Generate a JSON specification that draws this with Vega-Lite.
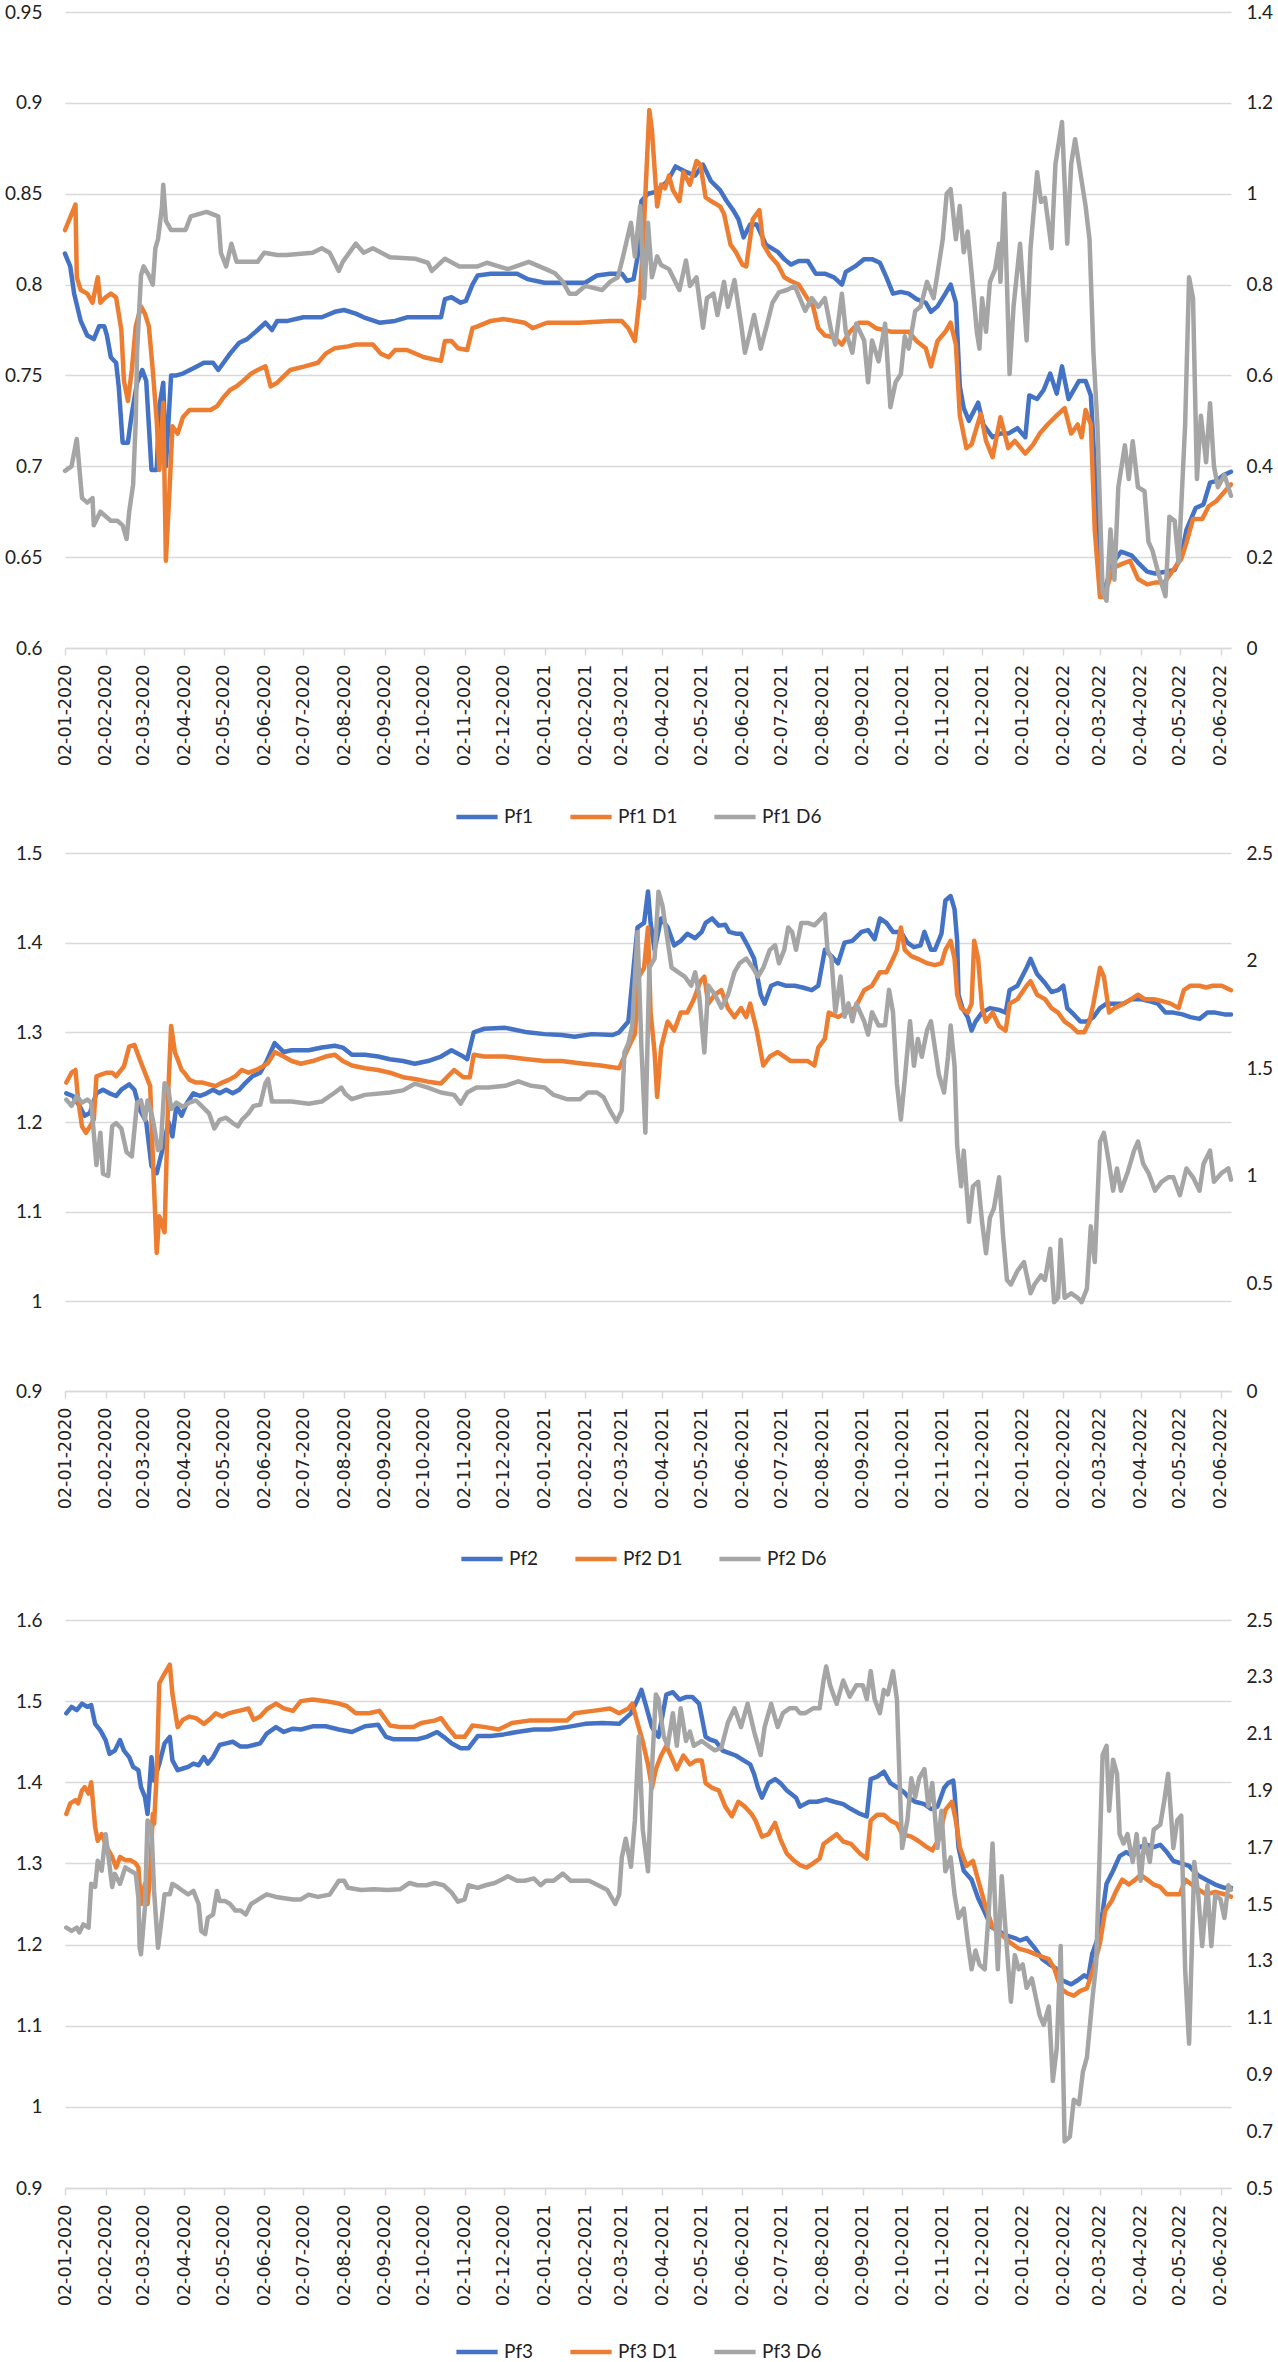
{
"$schema": "https://vega.github.io/schema/vega-lite/v6.json",
"background": "white",
"padding": {"left": 4, "top": 3, "right": 0, "bottom": 0},
"config": {
  "view": {"stroke": null},
  "font": "Lato",
  "axis": {"labelFont": "Lato", "labelFontSize": 19, "labelColor": "#222222", "title": null},
  "legend": {"labelFont": "Lato", "labelFontSize": 19, "labelColor": "#222222"},
  "line": {"strokeWidth": 4.5, "strokeCap": "round", "strokeJoin": "round"}
},
"datasets": {
"p1a": [
{"d":"2020-01-02","v":0.817},{"d":"2020-01-06","v":0.81},{"d":"2020-01-09","v":0.795},{"d":"2020-01-14","v":0.78},{"d":"2020-01-19","v":0.772},{"d":"2020-01-24","v":0.77},{"d":"2020-01-28","v":0.777},{"d":"2020-02-01","v":0.777},{"d":"2020-02-03","v":0.772},{"d":"2020-02-06","v":0.76},{"d":"2020-02-10","v":0.757},{"d":"2020-02-12","v":0.744},{"d":"2020-02-15","v":0.713},{"d":"2020-02-19","v":0.713},{"d":"2020-02-22","v":0.729},{"d":"2020-02-26","v":0.746},{"d":"2020-03-01","v":0.753},{"d":"2020-03-04","v":0.747},{"d":"2020-03-08","v":0.698},{"d":"2020-03-12","v":0.698},{"d":"2020-03-14","v":0.733},{"d":"2020-03-17","v":0.746},{"d":"2020-03-19","v":0.70},{"d":"2020-03-23","v":0.75},{"d":"2020-03-27","v":0.75},{"d":"2020-04-01","v":0.751},{"d":"2020-04-09","v":0.754},{"d":"2020-04-17","v":0.757},{"d":"2020-04-24","v":0.757},{"d":"2020-04-28","v":0.753},{"d":"2020-05-02","v":0.757},{"d":"2020-05-07","v":0.762},{"d":"2020-05-14","v":0.768},{"d":"2020-05-20","v":0.77},{"d":"2020-05-28","v":0.775},{"d":"2020-06-03","v":0.779},{"d":"2020-06-08","v":0.775},{"d":"2020-06-12","v":0.78},{"d":"2020-06-20","v":0.78},{"d":"2020-07-02","v":0.782},{"d":"2020-07-16","v":0.782},{"d":"2020-07-26","v":0.785},{"d":"2020-08-02","v":0.786},{"d":"2020-08-11","v":0.784},{"d":"2020-08-17","v":0.782},{"d":"2020-08-29","v":0.779},{"d":"2020-09-10","v":0.78},{"d":"2020-09-19","v":0.782},{"d":"2020-10-02","v":0.782},{"d":"2020-10-15","v":0.782},{"d":"2020-10-18","v":0.792},{"d":"2020-10-23","v":0.793},{"d":"2020-10-30","v":0.79},{"d":"2020-11-03","v":0.791},{"d":"2020-11-08","v":0.80},{"d":"2020-11-12","v":0.805},{"d":"2020-11-22","v":0.806},{"d":"2020-12-02","v":0.806},{"d":"2020-12-12","v":0.806},{"d":"2020-12-20","v":0.803},{"d":"2021-01-02","v":0.801},{"d":"2021-01-13","v":0.801},{"d":"2021-01-23","v":0.801},{"d":"2021-02-02","v":0.801},{"d":"2021-02-11","v":0.805},{"d":"2021-02-21","v":0.806},{"d":"2021-03-02","v":0.806},{"d":"2021-03-06","v":0.802},{"d":"2021-03-11","v":0.803},{"d":"2021-03-14","v":0.815},{"d":"2021-03-17","v":0.846},{"d":"2021-03-22","v":0.85},{"d":"2021-03-28","v":0.851},{"d":"2021-04-06","v":0.857},{"d":"2021-04-12","v":0.865},{"d":"2021-04-20","v":0.862},{"d":"2021-04-27","v":0.86},{"d":"2021-05-03","v":0.866},{"d":"2021-05-09","v":0.857},{"d":"2021-05-16","v":0.852},{"d":"2021-05-21","v":0.846},{"d":"2021-05-26","v":0.841},{"d":"2021-05-30","v":0.836},{"d":"2021-06-03","v":0.826},{"d":"2021-06-08","v":0.833},{"d":"2021-06-13","v":0.833},{"d":"2021-06-20","v":0.822},{"d":"2021-06-29","v":0.818},{"d":"2021-07-04","v":0.814},{"d":"2021-07-09","v":0.811},{"d":"2021-07-15","v":0.813},{"d":"2021-07-22","v":0.813},{"d":"2021-07-28","v":0.806},{"d":"2021-08-04","v":0.806},{"d":"2021-08-11","v":0.804},{"d":"2021-08-17","v":0.80},{"d":"2021-08-20","v":0.807},{"d":"2021-08-27","v":0.81},{"d":"2021-09-03","v":0.814},{"d":"2021-09-09","v":0.814},{"d":"2021-09-15","v":0.812},{"d":"2021-09-20","v":0.804},{"d":"2021-09-25","v":0.795},{"d":"2021-10-01","v":0.796},{"d":"2021-10-07","v":0.795},{"d":"2021-10-13","v":0.792},{"d":"2021-10-20","v":0.79},{"d":"2021-10-24","v":0.785},{"d":"2021-10-29","v":0.788},{"d":"2021-11-04","v":0.795},{"d":"2021-11-08","v":0.80},{"d":"2021-11-12","v":0.79},{"d":"2021-11-15","v":0.744},{"d":"2021-11-18","v":0.732},{"d":"2021-11-22","v":0.725},{"d":"2021-11-29","v":0.735},{"d":"2021-12-03","v":0.723},{"d":"2021-12-10","v":0.716},{"d":"2021-12-16","v":0.718},{"d":"2021-12-22","v":0.718},{"d":"2021-12-29","v":0.721},{"d":"2022-01-04","v":0.716},{"d":"2022-01-07","v":0.739},{"d":"2022-01-13","v":0.737},{"d":"2022-01-18","v":0.742},{"d":"2022-01-23","v":0.751},{"d":"2022-01-28","v":0.74},{"d":"2022-02-01","v":0.755},{"d":"2022-02-06","v":0.737},{"d":"2022-02-14","v":0.747},{"d":"2022-02-19","v":0.747},{"d":"2022-02-23","v":0.739},{"d":"2022-02-26","v":0.70},{"d":"2022-03-02","v":0.635},{"d":"2022-03-05","v":0.631},{"d":"2022-03-12","v":0.647},{"d":"2022-03-18","v":0.653},{"d":"2022-03-26","v":0.651},{"d":"2022-03-31","v":0.647},{"d":"2022-04-07","v":0.642},{"d":"2022-04-13","v":0.641},{"d":"2022-04-21","v":0.642},{"d":"2022-04-28","v":0.643},{"d":"2022-05-03","v":0.651},{"d":"2022-05-07","v":0.665},{"d":"2022-05-14","v":0.677},{"d":"2022-05-20","v":0.679},{"d":"2022-05-25","v":0.691},{"d":"2022-05-30","v":0.692},{"d":"2022-06-04","v":0.695},{"d":"2022-06-10","v":0.697}
],
"p1b": [
{"d":"2020-01-02","v":0.83},{"d":"2020-01-06","v":0.837},{"d":"2020-01-10","v":0.844},{"d":"2020-01-11","v":0.804},{"d":"2020-01-14","v":0.797},{"d":"2020-01-19","v":0.795},{"d":"2020-01-23","v":0.79},{"d":"2020-01-27","v":0.804},{"d":"2020-01-29","v":0.79},{"d":"2020-02-02","v":0.793},{"d":"2020-02-06","v":0.795},{"d":"2020-02-10","v":0.793},{"d":"2020-02-14","v":0.775},{"d":"2020-02-16","v":0.747},{"d":"2020-02-19","v":0.736},{"d":"2020-02-22","v":0.753},{"d":"2020-02-25","v":0.777},{"d":"2020-02-29","v":0.788},{"d":"2020-03-03","v":0.784},{"d":"2020-03-06","v":0.777},{"d":"2020-03-09","v":0.753},{"d":"2020-03-12","v":0.725},{"d":"2020-03-14","v":0.698},{"d":"2020-03-17","v":0.735},{"d":"2020-03-19","v":0.648},{"d":"2020-03-22","v":0.69},{"d":"2020-03-24","v":0.722},{"d":"2020-03-28","v":0.718},{"d":"2020-04-01","v":0.727},{"d":"2020-04-06","v":0.731},{"d":"2020-04-17","v":0.731},{"d":"2020-04-22","v":0.731},{"d":"2020-04-27","v":0.733},{"d":"2020-05-02","v":0.738},{"d":"2020-05-07","v":0.742},{"d":"2020-05-12","v":0.744},{"d":"2020-05-17","v":0.747},{"d":"2020-05-23","v":0.751},{"d":"2020-05-28","v":0.753},{"d":"2020-06-03","v":0.755},{"d":"2020-06-07","v":0.744},{"d":"2020-06-12","v":0.746},{"d":"2020-06-22","v":0.753},{"d":"2020-07-03","v":0.755},{"d":"2020-07-13","v":0.757},{"d":"2020-07-19","v":0.762},{"d":"2020-07-26","v":0.765},{"d":"2020-08-05","v":0.766},{"d":"2020-08-11","v":0.767},{"d":"2020-08-24","v":0.767},{"d":"2020-08-30","v":0.762},{"d":"2020-09-05","v":0.76},{"d":"2020-09-10","v":0.764},{"d":"2020-09-19","v":0.764},{"d":"2020-10-02","v":0.76},{"d":"2020-10-15","v":0.758},{"d":"2020-10-18","v":0.769},{"d":"2020-10-23","v":0.769},{"d":"2020-10-28","v":0.765},{"d":"2020-11-04","v":0.764},{"d":"2020-11-08","v":0.776},{"d":"2020-11-12","v":0.777},{"d":"2020-11-22","v":0.78},{"d":"2020-12-02","v":0.781},{"d":"2020-12-18","v":0.779},{"d":"2020-12-24","v":0.776},{"d":"2021-01-04","v":0.779},{"d":"2021-01-29","v":0.779},{"d":"2021-02-21","v":0.78},{"d":"2021-03-02","v":0.78},{"d":"2021-03-07","v":0.776},{"d":"2021-03-12","v":0.769},{"d":"2021-03-16","v":0.795},{"d":"2021-03-19","v":0.834},{"d":"2021-03-23","v":0.896},{"d":"2021-03-25","v":0.885},{"d":"2021-03-29","v":0.843},{"d":"2021-04-01","v":0.855},{"d":"2021-04-04","v":0.853},{"d":"2021-04-07","v":0.86},{"d":"2021-04-10","v":0.852},{"d":"2021-04-15","v":0.846},{"d":"2021-04-18","v":0.862},{"d":"2021-04-23","v":0.855},{"d":"2021-04-28","v":0.868},{"d":"2021-05-01","v":0.866},{"d":"2021-05-05","v":0.848},{"d":"2021-05-09","v":0.846},{"d":"2021-05-16","v":0.843},{"d":"2021-05-19","v":0.839},{"d":"2021-05-24","v":0.822},{"d":"2021-05-28","v":0.818},{"d":"2021-06-02","v":0.811},{"d":"2021-06-05","v":0.81},{"d":"2021-06-10","v":0.836},{"d":"2021-06-15","v":0.841},{"d":"2021-06-18","v":0.822},{"d":"2021-06-23","v":0.816},{"d":"2021-06-29","v":0.811},{"d":"2021-07-04","v":0.804},{"d":"2021-07-09","v":0.802},{"d":"2021-07-15","v":0.80},{"d":"2021-07-22","v":0.792},{"d":"2021-07-26","v":0.788},{"d":"2021-07-30","v":0.776},{"d":"2021-08-04","v":0.772},{"d":"2021-08-11","v":0.771},{"d":"2021-08-17","v":0.767},{"d":"2021-08-23","v":0.774},{"d":"2021-08-30","v":0.779},{"d":"2021-09-06","v":0.779},{"d":"2021-09-12","v":0.776},{"d":"2021-09-24","v":0.774},{"d":"2021-10-07","v":0.774},{"d":"2021-10-13","v":0.769},{"d":"2021-10-20","v":0.765},{"d":"2021-10-24","v":0.755},{"d":"2021-10-29","v":0.769},{"d":"2021-11-04","v":0.774},{"d":"2021-11-08","v":0.779},{"d":"2021-11-12","v":0.767},{"d":"2021-11-15","v":0.728},{"d":"2021-11-20","v":0.71},{"d":"2021-11-24","v":0.712},{"d":"2021-12-01","v":0.729},{"d":"2021-12-05","v":0.714},{"d":"2021-12-10","v":0.705},{"d":"2021-12-16","v":0.727},{"d":"2021-12-22","v":0.71},{"d":"2021-12-27","v":0.714},{"d":"2022-01-04","v":0.707},{"d":"2022-01-10","v":0.712},{"d":"2022-01-15","v":0.718},{"d":"2022-01-21","v":0.723},{"d":"2022-01-28","v":0.728},{"d":"2022-02-03","v":0.732},{"d":"2022-02-08","v":0.718},{"d":"2022-02-13","v":0.723},{"d":"2022-02-16","v":0.716},{"d":"2022-02-19","v":0.731},{"d":"2022-02-23","v":0.723},{"d":"2022-02-26","v":0.665},{"d":"2022-03-02","v":0.628},{"d":"2022-03-05","v":0.628},{"d":"2022-03-12","v":0.644},{"d":"2022-03-18","v":0.646},{"d":"2022-03-25","v":0.648},{"d":"2022-03-31","v":0.638},{"d":"2022-04-07","v":0.635},{"d":"2022-04-13","v":0.636},{"d":"2022-04-20","v":0.636},{"d":"2022-04-26","v":0.642},{"d":"2022-05-03","v":0.649},{"d":"2022-05-07","v":0.658},{"d":"2022-05-12","v":0.671},{"d":"2022-05-19","v":0.671},{"d":"2022-05-24","v":0.678},{"d":"2022-05-30","v":0.681},{"d":"2022-06-05","v":0.686},{"d":"2022-06-10","v":0.69}
],
"p1c": [
{"d":"2020-01-02","v":0.39},{"d":"2020-01-07","v":0.40},{"d":"2020-01-11","v":0.46},{"d":"2020-01-15","v":0.33},{"d":"2020-01-19","v":0.32},{"d":"2020-01-23","v":0.33},{"d":"2020-01-24","v":0.27},{"d":"2020-01-29","v":0.30},{"d":"2020-02-06","v":0.28},{"d":"2020-02-11","v":0.28},{"d":"2020-02-15","v":0.27},{"d":"2020-02-18","v":0.24},{"d":"2020-02-20","v":0.30},{"d":"2020-02-23","v":0.36},{"d":"2020-02-25","v":0.50},{"d":"2020-02-26","v":0.65},{"d":"2020-02-29","v":0.82},{"d":"2020-03-02","v":0.84},{"d":"2020-03-06","v":0.82},{"d":"2020-03-09","v":0.80},{"d":"2020-03-11","v":0.88},{"d":"2020-03-13","v":0.90},{"d":"2020-03-16","v":0.97},{"d":"2020-03-17","v":1.02},{"d":"2020-03-19","v":0.94},{"d":"2020-03-23","v":0.92},{"d":"2020-04-03","v":0.92},{"d":"2020-04-07","v":0.95},{"d":"2020-04-19","v":0.96},{"d":"2020-04-28","v":0.95},{"d":"2020-04-30","v":0.87},{"d":"2020-05-04","v":0.84},{"d":"2020-05-08","v":0.89},{"d":"2020-05-12","v":0.85},{"d":"2020-05-22","v":0.85},{"d":"2020-05-28","v":0.85},{"d":"2020-06-02","v":0.87},{"d":"2020-06-12","v":0.865},{"d":"2020-06-19","v":0.865},{"d":"2020-07-09","v":0.87},{"d":"2020-07-16","v":0.88},{"d":"2020-07-22","v":0.87},{"d":"2020-07-29","v":0.83},{"d":"2020-08-01","v":0.85},{"d":"2020-08-11","v":0.89},{"d":"2020-08-17","v":0.87},{"d":"2020-08-24","v":0.88},{"d":"2020-09-06","v":0.86},{"d":"2020-09-25","v":0.857},{"d":"2020-10-05","v":0.848},{"d":"2020-10-08","v":0.83},{"d":"2020-10-18","v":0.857},{"d":"2020-10-29","v":0.84},{"d":"2020-11-12","v":0.84},{"d":"2020-11-19","v":0.848},{"d":"2020-12-05","v":0.834},{"d":"2020-12-21","v":0.85},{"d":"2021-01-03","v":0.834},{"d":"2021-01-10","v":0.825},{"d":"2021-01-16","v":0.806},{"d":"2021-01-21","v":0.78},{"d":"2021-01-26","v":0.78},{"d":"2021-02-02","v":0.797},{"d":"2021-02-15","v":0.788},{"d":"2021-02-21","v":0.806},{"d":"2021-02-27","v":0.816},{"d":"2021-03-03","v":0.862},{"d":"2021-03-06","v":0.90},{"d":"2021-03-09","v":0.936},{"d":"2021-03-12","v":0.862},{"d":"2021-03-16","v":0.973},{"d":"2021-03-19","v":0.77},{"d":"2021-03-22","v":0.936},{"d":"2021-03-25","v":0.816},{"d":"2021-03-29","v":0.862},{"d":"2021-04-01","v":0.843},{"d":"2021-04-07","v":0.834},{"d":"2021-04-15","v":0.788},{"d":"2021-04-20","v":0.853},{"d":"2021-04-23","v":0.797},{"d":"2021-04-28","v":0.816},{"d":"2021-05-03","v":0.705},{"d":"2021-05-06","v":0.77},{"d":"2021-05-11","v":0.78},{"d":"2021-05-14","v":0.733},{"d":"2021-05-19","v":0.806},{"d":"2021-05-22","v":0.751},{"d":"2021-05-27","v":0.81},{"d":"2021-06-01","v":0.714},{"d":"2021-06-04","v":0.65},{"d":"2021-06-08","v":0.696},{"d":"2021-06-11","v":0.733},{"d":"2021-06-16","v":0.659},{"d":"2021-06-21","v":0.714},{"d":"2021-06-25","v":0.76},{"d":"2021-06-30","v":0.783},{"d":"2021-07-06","v":0.788},{"d":"2021-07-12","v":0.797},{"d":"2021-07-20","v":0.742},{"d":"2021-07-25","v":0.77},{"d":"2021-07-30","v":0.751},{"d":"2021-08-04","v":0.77},{"d":"2021-08-09","v":0.696},{"d":"2021-08-12","v":0.668},{"d":"2021-08-17","v":0.78},{"d":"2021-08-20","v":0.696},{"d":"2021-08-25","v":0.65},{"d":"2021-08-28","v":0.714},{"d":"2021-09-03","v":0.677},{"d":"2021-09-06","v":0.585},{"d":"2021-09-09","v":0.677},{"d":"2021-09-14","v":0.631},{"d":"2021-09-19","v":0.714},{"d":"2021-09-23","v":0.53},{"d":"2021-09-27","v":0.585},{"d":"2021-10-01","v":0.603},{"d":"2021-10-04","v":0.686},{"d":"2021-10-07","v":0.659},{"d":"2021-10-12","v":0.742},{"d":"2021-10-16","v":0.751},{"d":"2021-10-21","v":0.806},{"d":"2021-10-26","v":0.77},{"d":"2021-10-29","v":0.825},{"d":"2021-11-02","v":0.90},{"d":"2021-11-05","v":1.0},{"d":"2021-11-08","v":1.01},{"d":"2021-11-12","v":0.90},{"d":"2021-11-15","v":0.973},{"d":"2021-11-18","v":0.871},{"d":"2021-11-21","v":0.917},{"d":"2021-11-24","v":0.825},{"d":"2021-11-28","v":0.696},{"d":"2021-11-30","v":0.659},{"d":"2021-12-02","v":0.77},{"d":"2021-12-05","v":0.696},{"d":"2021-12-08","v":0.806},{"d":"2021-12-12","v":0.834},{"d":"2021-12-15","v":0.89},{"d":"2021-12-16","v":0.806},{"d":"2021-12-19","v":1.0},{"d":"2021-12-23","v":0.603},{"d":"2021-12-26","v":0.751},{"d":"2021-12-31","v":0.89},{"d":"2022-01-05","v":0.677},{"d":"2022-01-08","v":0.88},{"d":"2022-01-13","v":1.047},{"d":"2022-01-16","v":0.982},{"d":"2022-01-19","v":0.991},{"d":"2022-01-24","v":0.88},{"d":"2022-01-27","v":1.065},{"d":"2022-02-01","v":1.158},{"d":"2022-02-05","v":0.89},{"d":"2022-02-08","v":1.065},{"d":"2022-02-11","v":1.12},{"d":"2022-02-16","v":1.028},{"d":"2022-02-19","v":0.973},{"d":"2022-02-22","v":0.90},{"d":"2022-02-25","v":0.65},{"d":"2022-02-28","v":0.492},{"d":"2022-03-04","v":0.123},{"d":"2022-03-07","v":0.104},{"d":"2022-03-10","v":0.261},{"d":"2022-03-13","v":0.15},{"d":"2022-03-16","v":0.354},{"d":"2022-03-21","v":0.446},{"d":"2022-03-24","v":0.372},{"d":"2022-03-27","v":0.455},{"d":"2022-03-31","v":0.354},{"d":"2022-04-05","v":0.345},{"d":"2022-04-08","v":0.234},{"d":"2022-04-11","v":0.215},{"d":"2022-04-16","v":0.16},{"d":"2022-04-21","v":0.114},{"d":"2022-04-24","v":0.289},{"d":"2022-04-28","v":0.28},{"d":"2022-05-01","v":0.188},{"d":"2022-05-06","v":0.492},{"d":"2022-05-09","v":0.816},{"d":"2022-05-12","v":0.77},{"d":"2022-05-15","v":0.372},{"d":"2022-05-18","v":0.511},{"d":"2022-05-22","v":0.409},{"d":"2022-05-25","v":0.539},{"d":"2022-05-28","v":0.40},{"d":"2022-05-31","v":0.354},{"d":"2022-06-05","v":0.381},{"d":"2022-06-10","v":0.335}
],
"p2a": [
{"d":"2020-01-03","v":1.232},{"d":"2020-01-08","v":1.229},{"d":"2020-01-13","v":1.218},{"d":"2020-01-17","v":1.207},{"d":"2020-01-21","v":1.21},{"d":"2020-01-26","v":1.232},{"d":"2020-01-31","v":1.236},{"d":"2020-02-05","v":1.232},{"d":"2020-02-10","v":1.229},{"d":"2020-02-14","v":1.236},{"d":"2020-02-20","v":1.242},{"d":"2020-02-24","v":1.236},{"d":"2020-02-28","v":1.214},{"d":"2020-03-04","v":1.20},{"d":"2020-03-08","v":1.151},{"d":"2020-03-12","v":1.143},{"d":"2020-03-17","v":1.173},{"d":"2020-03-21","v":1.20},{"d":"2020-03-24","v":1.184},{"d":"2020-03-27","v":1.218},{"d":"2020-03-31","v":1.207},{"d":"2020-04-04","v":1.221},{"d":"2020-04-09","v":1.232},{"d":"2020-04-14","v":1.229},{"d":"2020-04-19","v":1.232},{"d":"2020-04-24","v":1.236},{"d":"2020-04-29","v":1.232},{"d":"2020-05-04","v":1.236},{"d":"2020-05-09","v":1.232},{"d":"2020-05-14","v":1.236},{"d":"2020-05-19","v":1.244},{"d":"2020-05-24","v":1.251},{"d":"2020-05-30","v":1.255},{"d":"2020-06-04","v":1.268},{"d":"2020-06-10","v":1.288},{"d":"2020-06-17","v":1.278},{"d":"2020-06-23","v":1.28},{"d":"2020-07-06","v":1.28},{"d":"2020-07-16","v":1.283},{"d":"2020-07-26","v":1.285},{"d":"2020-08-01","v":1.283},{"d":"2020-08-08","v":1.275},{"d":"2020-08-18","v":1.275},{"d":"2020-08-28","v":1.273},{"d":"2020-09-06","v":1.27},{"d":"2020-09-16","v":1.268},{"d":"2020-09-25","v":1.265},{"d":"2020-10-05","v":1.268},{"d":"2020-10-15","v":1.273},{"d":"2020-10-23","v":1.28},{"d":"2020-11-01","v":1.273},{"d":"2020-11-04","v":1.27},{"d":"2020-11-09","v":1.30},{"d":"2020-11-17","v":1.304},{"d":"2020-12-03","v":1.305},{"d":"2020-12-20","v":1.30},{"d":"2021-01-02","v":1.298},{"d":"2021-01-15","v":1.297},{"d":"2021-01-25","v":1.295},{"d":"2021-02-07","v":1.298},{"d":"2021-02-23","v":1.297},{"d":"2021-02-28","v":1.30},{"d":"2021-03-07","v":1.312},{"d":"2021-03-14","v":1.417},{"d":"2021-03-19","v":1.422},{"d":"2021-03-22","v":1.457},{"d":"2021-03-24","v":1.422},{"d":"2021-03-27","v":1.392},{"d":"2021-04-01","v":1.427},{"d":"2021-04-06","v":1.417},{"d":"2021-04-11","v":1.397},{"d":"2021-04-16","v":1.402},{"d":"2021-04-21","v":1.41},{"d":"2021-04-27","v":1.405},{"d":"2021-05-02","v":1.412},{"d":"2021-05-05","v":1.422},{"d":"2021-05-10","v":1.427},{"d":"2021-05-15","v":1.419},{"d":"2021-05-20","v":1.42},{"d":"2021-05-23","v":1.412},{"d":"2021-05-28","v":1.41},{"d":"2021-06-01","v":1.41},{"d":"2021-06-06","v":1.397},{"d":"2021-06-11","v":1.382},{"d":"2021-06-16","v":1.342},{"d":"2021-06-19","v":1.332},{"d":"2021-06-24","v":1.352},{"d":"2021-06-29","v":1.355},{"d":"2021-07-05","v":1.352},{"d":"2021-07-12","v":1.352},{"d":"2021-07-18","v":1.35},{"d":"2021-07-25","v":1.347},{"d":"2021-07-30","v":1.352},{"d":"2021-08-04","v":1.392},{"d":"2021-08-09","v":1.385},{"d":"2021-08-14","v":1.377},{"d":"2021-08-19","v":1.40},{"d":"2021-08-25","v":1.402},{"d":"2021-09-01","v":1.412},{"d":"2021-09-06","v":1.414},{"d":"2021-09-11","v":1.404},{"d":"2021-09-15","v":1.427},{"d":"2021-09-20","v":1.422},{"d":"2021-09-25","v":1.412},{"d":"2021-10-01","v":1.412},{"d":"2021-10-06","v":1.40},{"d":"2021-10-11","v":1.395},{"d":"2021-10-16","v":1.397},{"d":"2021-10-19","v":1.412},{"d":"2021-10-24","v":1.392},{"d":"2021-10-27","v":1.392},{"d":"2021-11-01","v":1.41},{"d":"2021-11-04","v":1.447},{"d":"2021-11-08","v":1.452},{"d":"2021-11-11","v":1.437},{"d":"2021-11-13","v":1.402},{"d":"2021-11-14","v":1.342},{"d":"2021-11-17","v":1.327},{"d":"2021-11-21","v":1.317},{"d":"2021-11-24","v":1.302},{"d":"2021-11-27","v":1.312},{"d":"2021-12-02","v":1.322},{"d":"2021-12-08","v":1.327},{"d":"2021-12-15","v":1.325},{"d":"2021-12-20","v":1.322},{"d":"2021-12-23","v":1.347},{"d":"2021-12-29","v":1.352},{"d":"2022-01-05","v":1.372},{"d":"2022-01-08","v":1.382},{"d":"2022-01-13","v":1.365},{"d":"2022-01-19","v":1.355},{"d":"2022-01-24","v":1.345},{"d":"2022-01-29","v":1.347},{"d":"2022-02-02","v":1.352},{"d":"2022-02-05","v":1.327},{"d":"2022-02-10","v":1.32},{"d":"2022-02-15","v":1.312},{"d":"2022-02-20","v":1.312},{"d":"2022-02-25","v":1.317},{"d":"2022-03-02","v":1.327},{"d":"2022-03-07","v":1.332},{"d":"2022-03-13","v":1.332},{"d":"2022-03-20","v":1.332},{"d":"2022-03-26","v":1.337},{"d":"2022-04-02","v":1.337},{"d":"2022-04-08","v":1.335},{"d":"2022-04-15","v":1.332},{"d":"2022-04-21","v":1.322},{"d":"2022-04-27","v":1.322},{"d":"2022-05-04","v":1.32},{"d":"2022-05-10","v":1.317},{"d":"2022-05-17","v":1.315},{"d":"2022-05-23","v":1.322},{"d":"2022-05-29","v":1.322},{"d":"2022-06-05","v":1.32},{"d":"2022-06-10","v":1.32}
],
"p2b": [
{"d":"2020-01-03","v":1.244},{"d":"2020-01-07","v":1.255},{"d":"2020-01-10","v":1.258},{"d":"2020-01-12","v":1.225},{"d":"2020-01-15","v":1.195},{"d":"2020-01-18","v":1.188},{"d":"2020-01-21","v":1.195},{"d":"2020-01-24","v":1.203},{"d":"2020-01-26","v":1.251},{"d":"2020-01-30","v":1.253},{"d":"2020-02-03","v":1.255},{"d":"2020-02-07","v":1.255},{"d":"2020-02-10","v":1.251},{"d":"2020-02-16","v":1.262},{"d":"2020-02-20","v":1.284},{"d":"2020-02-24","v":1.286},{"d":"2020-02-28","v":1.27},{"d":"2020-03-03","v":1.255},{"d":"2020-03-07","v":1.24},{"d":"2020-03-09","v":1.162},{"d":"2020-03-12","v":1.054},{"d":"2020-03-14","v":1.095},{"d":"2020-03-18","v":1.077},{"d":"2020-03-21","v":1.24},{"d":"2020-03-23","v":1.307},{"d":"2020-03-26","v":1.277},{"d":"2020-03-28","v":1.27},{"d":"2020-03-31","v":1.258},{"d":"2020-04-02","v":1.255},{"d":"2020-04-06","v":1.247},{"d":"2020-04-11","v":1.244},{"d":"2020-04-16","v":1.244},{"d":"2020-04-21","v":1.242},{"d":"2020-04-26","v":1.24},{"d":"2020-05-01","v":1.244},{"d":"2020-05-06","v":1.247},{"d":"2020-05-11","v":1.251},{"d":"2020-05-16","v":1.258},{"d":"2020-05-21","v":1.255},{"d":"2020-05-27","v":1.258},{"d":"2020-06-01","v":1.262},{"d":"2020-06-05","v":1.266},{"d":"2020-06-10","v":1.278},{"d":"2020-06-17","v":1.273},{"d":"2020-06-23","v":1.268},{"d":"2020-06-30","v":1.265},{"d":"2020-07-09","v":1.268},{"d":"2020-07-19","v":1.273},{"d":"2020-07-26","v":1.275},{"d":"2020-08-01","v":1.268},{"d":"2020-08-08","v":1.263},{"d":"2020-08-18","v":1.26},{"d":"2020-08-28","v":1.258},{"d":"2020-09-06","v":1.255},{"d":"2020-09-16","v":1.25},{"d":"2020-09-25","v":1.248},{"d":"2020-10-05","v":1.245},{"d":"2020-10-15","v":1.243},{"d":"2020-10-25","v":1.258},{"d":"2020-11-01","v":1.25},{"d":"2020-11-06","v":1.25},{"d":"2020-11-09","v":1.275},{"d":"2020-11-17","v":1.273},{"d":"2020-12-03","v":1.273},{"d":"2020-12-20","v":1.27},{"d":"2021-01-02","v":1.268},{"d":"2021-01-15","v":1.268},{"d":"2021-02-01","v":1.265},{"d":"2021-02-14","v":1.263},{"d":"2021-02-28","v":1.26},{"d":"2021-03-04","v":1.273},{"d":"2021-03-07","v":1.283},{"d":"2021-03-12","v":1.298},{"d":"2021-03-15","v":1.362},{"d":"2021-03-19","v":1.372},{"d":"2021-03-22","v":1.417},{"d":"2021-03-24","v":1.322},{"d":"2021-03-27","v":1.278},{"d":"2021-03-29","v":1.228},{"d":"2021-04-01","v":1.283},{"d":"2021-04-06","v":1.312},{"d":"2021-04-11","v":1.302},{"d":"2021-04-16","v":1.322},{"d":"2021-04-21","v":1.322},{"d":"2021-04-26","v":1.337},{"d":"2021-05-01","v":1.357},{"d":"2021-05-04","v":1.362},{"d":"2021-05-07","v":1.332},{"d":"2021-05-12","v":1.342},{"d":"2021-05-17","v":1.347},{"d":"2021-05-22","v":1.327},{"d":"2021-05-27","v":1.317},{"d":"2021-06-01","v":1.327},{"d":"2021-06-05","v":1.317},{"d":"2021-06-08","v":1.332},{"d":"2021-06-13","v":1.302},{"d":"2021-06-18","v":1.263},{"d":"2021-06-23","v":1.273},{"d":"2021-06-29","v":1.278},{"d":"2021-07-04","v":1.273},{"d":"2021-07-09","v":1.268},{"d":"2021-07-16","v":1.268},{"d":"2021-07-22","v":1.268},{"d":"2021-07-27","v":1.263},{"d":"2021-07-30","v":1.283},{"d":"2021-08-04","v":1.293},{"d":"2021-08-07","v":1.322},{"d":"2021-08-14","v":1.317},{"d":"2021-08-20","v":1.322},{"d":"2021-08-27","v":1.327},{"d":"2021-09-03","v":1.347},{"d":"2021-09-09","v":1.352},{"d":"2021-09-15","v":1.367},{"d":"2021-09-20","v":1.367},{"d":"2021-09-25","v":1.382},{"d":"2021-09-28","v":1.392},{"d":"2021-10-01","v":1.417},{"d":"2021-10-04","v":1.392},{"d":"2021-10-09","v":1.385},{"d":"2021-10-14","v":1.382},{"d":"2021-10-21","v":1.377},{"d":"2021-10-27","v":1.375},{"d":"2021-11-01","v":1.377},{"d":"2021-11-04","v":1.392},{"d":"2021-11-08","v":1.402},{"d":"2021-11-11","v":1.382},{"d":"2021-11-13","v":1.342},{"d":"2021-11-16","v":1.327},{"d":"2021-11-21","v":1.322},{"d":"2021-11-24","v":1.332},{"d":"2021-11-26","v":1.402},{"d":"2021-11-29","v":1.382},{"d":"2021-12-02","v":1.327},{"d":"2021-12-05","v":1.312},{"d":"2021-12-10","v":1.322},{"d":"2021-12-15","v":1.307},{"d":"2021-12-20","v":1.302},{"d":"2021-12-23","v":1.332},{"d":"2021-12-29","v":1.337},{"d":"2022-01-05","v":1.352},{"d":"2022-01-08","v":1.357},{"d":"2022-01-13","v":1.342},{"d":"2022-01-19","v":1.337},{"d":"2022-01-24","v":1.327},{"d":"2022-01-29","v":1.322},{"d":"2022-02-03","v":1.312},{"d":"2022-02-08","v":1.307},{"d":"2022-02-13","v":1.30},{"d":"2022-02-18","v":1.30},{"d":"2022-02-22","v":1.312},{"d":"2022-02-25","v":1.332},{"d":"2022-03-02","v":1.372},{"d":"2022-03-05","v":1.362},{"d":"2022-03-09","v":1.322},{"d":"2022-03-13","v":1.327},{"d":"2022-03-20","v":1.332},{"d":"2022-03-26","v":1.337},{"d":"2022-03-31","v":1.342},{"d":"2022-04-05","v":1.337},{"d":"2022-04-12","v":1.337},{"d":"2022-04-18","v":1.335},{"d":"2022-04-25","v":1.332},{"d":"2022-05-01","v":1.327},{"d":"2022-05-05","v":1.347},{"d":"2022-05-10","v":1.352},{"d":"2022-05-17","v":1.352},{"d":"2022-05-22","v":1.35},{"d":"2022-05-27","v":1.352},{"d":"2022-06-03","v":1.352},{"d":"2022-06-10","v":1.347}
],
"p2c": [
{"d":"2020-01-03","v":1.354},{"d":"2020-01-07","v":1.325},{"d":"2020-01-11","v":1.37},{"d":"2020-01-15","v":1.34},{"d":"2020-01-19","v":1.354},{"d":"2020-01-22","v":1.34},{"d":"2020-01-26","v":1.05},{"d":"2020-01-29","v":1.20},{"d":"2020-01-31","v":1.01},{"d":"2020-02-04","v":1.0},{"d":"2020-02-07","v":1.23},{"d":"2020-02-10","v":1.245},{"d":"2020-02-14","v":1.22},{"d":"2020-02-18","v":1.11},{"d":"2020-02-22","v":1.09},{"d":"2020-02-26","v":1.34},{"d":"2020-02-29","v":1.35},{"d":"2020-03-03","v":1.26},{"d":"2020-03-05","v":1.35},{"d":"2020-03-08","v":1.29},{"d":"2020-03-10","v":1.23},{"d":"2020-03-13","v":1.12},{"d":"2020-03-15","v":1.13},{"d":"2020-03-18","v":1.43},{"d":"2020-03-21","v":1.40},{"d":"2020-03-23","v":1.31},{"d":"2020-03-27","v":1.34},{"d":"2020-04-01","v":1.32},{"d":"2020-04-06","v":1.34},{"d":"2020-04-11","v":1.35},{"d":"2020-04-16","v":1.32},{"d":"2020-04-21","v":1.29},{"d":"2020-04-25","v":1.22},{"d":"2020-04-29","v":1.26},{"d":"2020-05-04","v":1.27},{"d":"2020-05-09","v":1.245},{"d":"2020-05-13","v":1.23},{"d":"2020-05-16","v":1.26},{"d":"2020-05-21","v":1.29},{"d":"2020-05-25","v":1.325},{"d":"2020-05-30","v":1.33},{"d":"2020-06-03","v":1.43},{"d":"2020-06-05","v":1.45},{"d":"2020-06-08","v":1.345},{"d":"2020-06-23","v":1.345},{"d":"2020-07-06","v":1.335},{"d":"2020-07-16","v":1.345},{"d":"2020-07-26","v":1.387},{"d":"2020-07-31","v":1.41},{"d":"2020-08-03","v":1.38},{"d":"2020-08-08","v":1.356},{"d":"2020-08-18","v":1.376},{"d":"2020-09-06","v":1.387},{"d":"2020-09-16","v":1.397},{"d":"2020-09-25","v":1.428},{"d":"2020-10-05","v":1.41},{"d":"2020-10-15","v":1.387},{"d":"2020-10-25","v":1.376},{"d":"2020-10-30","v":1.335},{"d":"2020-11-04","v":1.387},{"d":"2020-11-11","v":1.41},{"d":"2020-11-20","v":1.41},{"d":"2020-12-03","v":1.418},{"d":"2020-12-13","v":1.439},{"d":"2020-12-23","v":1.418},{"d":"2021-01-02","v":1.41},{"d":"2021-01-09","v":1.376},{"d":"2021-01-19","v":1.356},{"d":"2021-01-29","v":1.356},{"d":"2021-02-04","v":1.387},{"d":"2021-02-11","v":1.387},{"d":"2021-02-16","v":1.366},{"d":"2021-02-21","v":1.304},{"d":"2021-02-26","v":1.252},{"d":"2021-03-02","v":1.304},{"d":"2021-03-04","v":1.573},{"d":"2021-03-07","v":1.615},{"d":"2021-03-10","v":1.698},{"d":"2021-03-14","v":2.133},{"d":"2021-03-17","v":1.594},{"d":"2021-03-20","v":1.20},{"d":"2021-03-23","v":1.967},{"d":"2021-03-27","v":2.009},{"d":"2021-03-30","v":2.32},{"d":"2021-04-02","v":2.257},{"d":"2021-04-06","v":2.092},{"d":"2021-04-09","v":1.967},{"d":"2021-04-14","v":1.946},{"d":"2021-04-19","v":1.926},{"d":"2021-04-24","v":1.884},{"d":"2021-04-27","v":1.946},{"d":"2021-04-30","v":1.843},{"d":"2021-05-04","v":1.573},{"d":"2021-05-07","v":1.884},{"d":"2021-05-12","v":1.843},{"d":"2021-05-17","v":1.781},{"d":"2021-05-22","v":1.84},{"d":"2021-05-27","v":1.946},{"d":"2021-05-31","v":1.988},{"d":"2021-06-05","v":2.009},{"d":"2021-06-10","v":1.967},{"d":"2021-06-14","v":1.926},{"d":"2021-06-18","v":1.967},{"d":"2021-06-23","v":2.05},{"d":"2021-06-27","v":2.071},{"d":"2021-06-30","v":1.988},{"d":"2021-07-04","v":2.05},{"d":"2021-07-07","v":2.154},{"d":"2021-07-10","v":2.133},{"d":"2021-07-13","v":2.05},{"d":"2021-07-17","v":2.175},{"d":"2021-07-22","v":2.175},{"d":"2021-07-27","v":2.164},{"d":"2021-08-01","v":2.195},{"d":"2021-08-04","v":2.216},{"d":"2021-08-06","v":2.05},{"d":"2021-08-09","v":2.009},{"d":"2021-08-12","v":1.76},{"d":"2021-08-16","v":1.926},{"d":"2021-08-19","v":1.739},{"d":"2021-08-22","v":1.801},{"d":"2021-08-25","v":1.718},{"d":"2021-08-28","v":1.80},{"d":"2021-09-03","v":1.718},{"d":"2021-09-06","v":1.656},{"d":"2021-09-09","v":1.76},{"d":"2021-09-14","v":1.698},{"d":"2021-09-19","v":1.70},{"d":"2021-09-22","v":1.864},{"d":"2021-09-25","v":1.76},{"d":"2021-09-28","v":1.428},{"d":"2021-10-01","v":1.262},{"d":"2021-10-04","v":1.449},{"d":"2021-10-08","v":1.718},{"d":"2021-10-11","v":1.511},{"d":"2021-10-14","v":1.636},{"d":"2021-10-17","v":1.553},{"d":"2021-10-21","v":1.677},{"d":"2021-10-24","v":1.718},{"d":"2021-10-27","v":1.594},{"d":"2021-10-30","v":1.47},{"d":"2021-11-03","v":1.387},{"d":"2021-11-06","v":1.553},{"d":"2021-11-08","v":1.698},{"d":"2021-11-11","v":1.511},{"d":"2021-11-13","v":1.138},{"d":"2021-11-16","v":0.951},{"d":"2021-11-18","v":1.117},{"d":"2021-11-22","v":0.786},{"d":"2021-11-25","v":0.951},{"d":"2021-11-29","v":0.972},{"d":"2021-12-02","v":0.786},{"d":"2021-12-05","v":0.64},{"d":"2021-12-08","v":0.806},{"d":"2021-12-11","v":0.848},{"d":"2021-12-15","v":0.993},{"d":"2021-12-18","v":0.723},{"d":"2021-12-21","v":0.516},{"d":"2021-12-24","v":0.495},{"d":"2021-12-29","v":0.558},{"d":"2022-01-03","v":0.599},{"d":"2022-01-08","v":0.454},{"d":"2022-01-11","v":0.495},{"d":"2022-01-16","v":0.537},{"d":"2022-01-19","v":0.516},{"d":"2022-01-23","v":0.661},{"d":"2022-01-26","v":0.413},{"d":"2022-01-29","v":0.433},{"d":"2022-01-31","v":0.703},{"d":"2022-02-03","v":0.433},{"d":"2022-02-08","v":0.454},{"d":"2022-02-13","v":0.433},{"d":"2022-02-16","v":0.413},{"d":"2022-02-20","v":0.475},{"d":"2022-02-23","v":0.765},{"d":"2022-02-26","v":0.599},{"d":"2022-03-02","v":1.159},{"d":"2022-03-05","v":1.20},{"d":"2022-03-09","v":1.055},{"d":"2022-03-12","v":0.931},{"d":"2022-03-15","v":1.034},{"d":"2022-03-18","v":0.931},{"d":"2022-03-23","v":1.014},{"d":"2022-03-28","v":1.117},{"d":"2022-03-31","v":1.159},{"d":"2022-04-04","v":1.055},{"d":"2022-04-08","v":1.014},{"d":"2022-04-13","v":0.931},{"d":"2022-04-18","v":0.972},{"d":"2022-04-23","v":0.993},{"d":"2022-04-27","v":0.993},{"d":"2022-05-02","v":0.91},{"d":"2022-05-07","v":1.034},{"d":"2022-05-12","v":0.993},{"d":"2022-05-17","v":0.931},{"d":"2022-05-20","v":1.055},{"d":"2022-05-25","v":1.117},{"d":"2022-05-28","v":0.972},{"d":"2022-06-03","v":1.014},{"d":"2022-06-08","v":1.034},{"d":"2022-06-10","v":0.982}
],
"p3a": [
{"d":"2020-01-03","v":1.485},{"d":"2020-01-07","v":1.493},{"d":"2020-01-11","v":1.489},{"d":"2020-01-15","v":1.497},{"d":"2020-01-19","v":1.493},{"d":"2020-01-22","v":1.495},{"d":"2020-01-25","v":1.472},{"d":"2020-01-29","v":1.464},{"d":"2020-02-02","v":1.452},{"d":"2020-02-05","v":1.435},{"d":"2020-02-09","v":1.439},{"d":"2020-02-13","v":1.452},{"d":"2020-02-16","v":1.439},{"d":"2020-02-20","v":1.431},{"d":"2020-02-23","v":1.419},{"d":"2020-02-27","v":1.415},{"d":"2020-02-29","v":1.394},{"d":"2020-03-03","v":1.382},{"d":"2020-03-05","v":1.361},{"d":"2020-03-08","v":1.431},{"d":"2020-03-10","v":1.402},{"d":"2020-03-14","v":1.423},{"d":"2020-03-18","v":1.448},{"d":"2020-03-22","v":1.456},{"d":"2020-03-24","v":1.427},{"d":"2020-03-28","v":1.415},{"d":"2020-04-01","v":1.417},{"d":"2020-04-05","v":1.419},{"d":"2020-04-09","v":1.423},{"d":"2020-04-13","v":1.421},{"d":"2020-04-17","v":1.431},{"d":"2020-04-20","v":1.423},{"d":"2020-04-24","v":1.431},{"d":"2020-04-29","v":1.446},{"d":"2020-05-04","v":1.448},{"d":"2020-05-09","v":1.45},{"d":"2020-05-15","v":1.444},{"d":"2020-05-20","v":1.444},{"d":"2020-05-25","v":1.446},{"d":"2020-05-30","v":1.448},{"d":"2020-06-04","v":1.46},{"d":"2020-06-11","v":1.468},{"d":"2020-06-17","v":1.462},{"d":"2020-06-24","v":1.466},{"d":"2020-06-30","v":1.465},{"d":"2020-07-09","v":1.469},{"d":"2020-07-19","v":1.469},{"d":"2020-07-29","v":1.465},{"d":"2020-08-08","v":1.462},{"d":"2020-08-18","v":1.469},{"d":"2020-08-28","v":1.471},{"d":"2020-09-03","v":1.456},{"d":"2020-09-09","v":1.453},{"d":"2020-09-17","v":1.453},{"d":"2020-09-27","v":1.453},{"d":"2020-10-04","v":1.456},{"d":"2020-10-12","v":1.462},{"d":"2020-10-17","v":1.456},{"d":"2020-10-23","v":1.448},{"d":"2020-10-30","v":1.442},{"d":"2020-11-05","v":1.442},{"d":"2020-11-12","v":1.457},{"d":"2020-11-22","v":1.457},{"d":"2020-12-02","v":1.459},{"d":"2020-12-12","v":1.462},{"d":"2020-12-25","v":1.465},{"d":"2021-01-06","v":1.465},{"d":"2021-01-19","v":1.468},{"d":"2021-02-02","v":1.472},{"d":"2021-02-15","v":1.473},{"d":"2021-02-28","v":1.472},{"d":"2021-03-09","v":1.485},{"d":"2021-03-14","v":1.502},{"d":"2021-03-17","v":1.514},{"d":"2021-03-20","v":1.497},{"d":"2021-03-25","v":1.468},{"d":"2021-03-30","v":1.456},{"d":"2021-04-05","v":1.508},{"d":"2021-04-10","v":1.511},{"d":"2021-04-15","v":1.502},{"d":"2021-04-20","v":1.505},{"d":"2021-04-25","v":1.505},{"d":"2021-04-30","v":1.497},{"d":"2021-05-05","v":1.456},{"d":"2021-05-08","v":1.453},{"d":"2021-05-13","v":1.45},{"d":"2021-05-18","v":1.439},{"d":"2021-05-23","v":1.436},{"d":"2021-05-28","v":1.433},{"d":"2021-06-03","v":1.427},{"d":"2021-06-08","v":1.422},{"d":"2021-06-11","v":1.41},{"d":"2021-06-14","v":1.393},{"d":"2021-06-17","v":1.381},{"d":"2021-06-22","v":1.399},{"d":"2021-06-27","v":1.404},{"d":"2021-07-01","v":1.399},{"d":"2021-07-06","v":1.39},{"d":"2021-07-13","v":1.381},{"d":"2021-07-16","v":1.37},{"d":"2021-07-23","v":1.376},{"d":"2021-07-29","v":1.376},{"d":"2021-08-05","v":1.379},{"d":"2021-08-11","v":1.376},{"d":"2021-08-18","v":1.373},{"d":"2021-08-24","v":1.367},{"d":"2021-08-31","v":1.361},{"d":"2021-09-05","v":1.358},{"d":"2021-09-08","v":1.404},{"d":"2021-09-13","v":1.407},{"d":"2021-09-18","v":1.413},{"d":"2021-09-23","v":1.399},{"d":"2021-09-29","v":1.393},{"d":"2021-10-04","v":1.387},{"d":"2021-10-07","v":1.381},{"d":"2021-10-12","v":1.376},{"d":"2021-10-19","v":1.373},{"d":"2021-10-24","v":1.367},{"d":"2021-10-29","v":1.37},{"d":"2021-11-03","v":1.393},{"d":"2021-11-06","v":1.399},{"d":"2021-11-10","v":1.402},{"d":"2021-11-11","v":1.387},{"d":"2021-11-14","v":1.32},{"d":"2021-11-18","v":1.291},{"d":"2021-11-24","v":1.28},{"d":"2021-11-29","v":1.257},{"d":"2021-12-04","v":1.24},{"d":"2021-12-09","v":1.222},{"d":"2021-12-14","v":1.217},{"d":"2021-12-21","v":1.211},{"d":"2021-12-27","v":1.208},{"d":"2021-12-31","v":1.205},{"d":"2022-01-05","v":1.208},{"d":"2022-01-12","v":1.194},{"d":"2022-01-17","v":1.182},{"d":"2022-01-22","v":1.176},{"d":"2022-01-27","v":1.171},{"d":"2022-02-01","v":1.156},{"d":"2022-02-08","v":1.151},{"d":"2022-02-13","v":1.156},{"d":"2022-02-18","v":1.162},{"d":"2022-02-21","v":1.159},{"d":"2022-02-24","v":1.188},{"d":"2022-03-01","v":1.211},{"d":"2022-03-04","v":1.24},{"d":"2022-03-07","v":1.275},{"d":"2022-03-12","v":1.291},{"d":"2022-03-17","v":1.309},{"d":"2022-03-22","v":1.314},{"d":"2022-03-27","v":1.309},{"d":"2022-04-01","v":1.32},{"d":"2022-04-07","v":1.323},{"d":"2022-04-12","v":1.32},{"d":"2022-04-17","v":1.323},{"d":"2022-04-22","v":1.314},{"d":"2022-04-27","v":1.303},{"d":"2022-05-03","v":1.30},{"d":"2022-05-09","v":1.297},{"d":"2022-05-16","v":1.285},{"d":"2022-05-22","v":1.28},{"d":"2022-05-29","v":1.274},{"d":"2022-06-05","v":1.27},{"d":"2022-06-10","v":1.27}
],
"p3b": [
{"d":"2020-01-03","v":1.361},{"d":"2020-01-06","v":1.374},{"d":"2020-01-10","v":1.378},{"d":"2020-01-12","v":1.374},{"d":"2020-01-15","v":1.39},{"d":"2020-01-17","v":1.394},{"d":"2020-01-20","v":1.386},{"d":"2020-01-22","v":1.40},{"d":"2020-01-25","v":1.345},{"d":"2020-01-27","v":1.328},{"d":"2020-01-30","v":1.336},{"d":"2020-02-03","v":1.32},{"d":"2020-02-07","v":1.308},{"d":"2020-02-10","v":1.295},{"d":"2020-02-13","v":1.308},{"d":"2020-02-17","v":1.304},{"d":"2020-02-21","v":1.304},{"d":"2020-02-25","v":1.30},{"d":"2020-02-27","v":1.295},{"d":"2020-02-29","v":1.25},{"d":"2020-03-03","v":1.275},{"d":"2020-03-05","v":1.25},{"d":"2020-03-07","v":1.287},{"d":"2020-03-09","v":1.361},{"d":"2020-03-10","v":1.349},{"d":"2020-03-12","v":1.411},{"d":"2020-03-14","v":1.522},{"d":"2020-03-18","v":1.534},{"d":"2020-03-22","v":1.545},{"d":"2020-03-24","v":1.509},{"d":"2020-03-28","v":1.468},{"d":"2020-04-01","v":1.477},{"d":"2020-04-06","v":1.481},{"d":"2020-04-11","v":1.479},{"d":"2020-04-17","v":1.472},{"d":"2020-04-21","v":1.477},{"d":"2020-04-26","v":1.485},{"d":"2020-05-01","v":1.481},{"d":"2020-05-06","v":1.485},{"d":"2020-05-11","v":1.487},{"d":"2020-05-16","v":1.489},{"d":"2020-05-21","v":1.491},{"d":"2020-05-25","v":1.477},{"d":"2020-05-30","v":1.481},{"d":"2020-06-04","v":1.49},{"d":"2020-06-11","v":1.497},{"d":"2020-06-17","v":1.491},{"d":"2020-06-24","v":1.488},{"d":"2020-06-30","v":1.50},{"d":"2020-07-09","v":1.502},{"d":"2020-07-19","v":1.50},{"d":"2020-07-29","v":1.497},{"d":"2020-08-04","v":1.494},{"d":"2020-08-11","v":1.485},{"d":"2020-08-21","v":1.485},{"d":"2020-08-29","v":1.488},{"d":"2020-09-06","v":1.47},{"d":"2020-09-14","v":1.468},{"d":"2020-09-24","v":1.468},{"d":"2020-09-30","v":1.473},{"d":"2020-10-10","v":1.476},{"d":"2020-10-15","v":1.479},{"d":"2020-10-20","v":1.468},{"d":"2020-10-26","v":1.456},{"d":"2020-11-02","v":1.456},{"d":"2020-11-08","v":1.47},{"d":"2020-11-18","v":1.468},{"d":"2020-11-28","v":1.465},{"d":"2020-12-08","v":1.473},{"d":"2020-12-21","v":1.476},{"d":"2021-01-02","v":1.476},{"d":"2021-01-19","v":1.476},{"d":"2021-01-25","v":1.485},{"d":"2021-02-08","v":1.488},{"d":"2021-02-21","v":1.491},{"d":"2021-02-28","v":1.485},{"d":"2021-03-07","v":1.491},{"d":"2021-03-10","v":1.497},{"d":"2021-03-14","v":1.473},{"d":"2021-03-18","v":1.45},{"d":"2021-03-22","v":1.422},{"d":"2021-03-25","v":1.393},{"d":"2021-03-28","v":1.416},{"d":"2021-04-01","v":1.433},{"d":"2021-04-05","v":1.445},{"d":"2021-04-10","v":1.427},{"d":"2021-04-13","v":1.416},{"d":"2021-04-18","v":1.433},{"d":"2021-04-23","v":1.422},{"d":"2021-04-28","v":1.427},{"d":"2021-05-02","v":1.427},{"d":"2021-05-05","v":1.399},{"d":"2021-05-10","v":1.393},{"d":"2021-05-15","v":1.39},{"d":"2021-05-20","v":1.37},{"d":"2021-05-25","v":1.358},{"d":"2021-05-30","v":1.376},{"d":"2021-06-04","v":1.37},{"d":"2021-06-09","v":1.361},{"d":"2021-06-12","v":1.353},{"d":"2021-06-17","v":1.333},{"d":"2021-06-22","v":1.336},{"d":"2021-06-27","v":1.35},{"d":"2021-07-01","v":1.33},{"d":"2021-07-06","v":1.312},{"d":"2021-07-11","v":1.304},{"d":"2021-07-16","v":1.298},{"d":"2021-07-21","v":1.295},{"d":"2021-07-26","v":1.30},{"d":"2021-07-31","v":1.306},{"d":"2021-08-03","v":1.324},{"d":"2021-08-08","v":1.33},{"d":"2021-08-13","v":1.336},{"d":"2021-08-18","v":1.327},{"d":"2021-08-24","v":1.324},{"d":"2021-08-31","v":1.312},{"d":"2021-09-05","v":1.306},{"d":"2021-09-08","v":1.353},{"d":"2021-09-13","v":1.36},{"d":"2021-09-18","v":1.36},{"d":"2021-09-23","v":1.353},{"d":"2021-09-28","v":1.349},{"d":"2021-10-02","v":1.336},{"d":"2021-10-09","v":1.333},{"d":"2021-10-15","v":1.327},{"d":"2021-10-20","v":1.321},{"d":"2021-10-25","v":1.316},{"d":"2021-10-30","v":1.33},{"d":"2021-11-04","v":1.366},{"d":"2021-11-09","v":1.376},{"d":"2021-11-12","v":1.353},{"d":"2021-11-15","v":1.32},{"d":"2021-11-20","v":1.297},{"d":"2021-11-25","v":1.303},{"d":"2021-11-30","v":1.274},{"d":"2021-12-05","v":1.245},{"d":"2021-12-10","v":1.222},{"d":"2021-12-17","v":1.212},{"d":"2021-12-23","v":1.203},{"d":"2021-12-30","v":1.195},{"d":"2022-01-06","v":1.192},{"d":"2022-01-12","v":1.188},{"d":"2022-01-17","v":1.185},{"d":"2022-01-22","v":1.182},{"d":"2022-01-26","v":1.171},{"d":"2022-01-31","v":1.146},{"d":"2022-02-05","v":1.14},{"d":"2022-02-10","v":1.137},{"d":"2022-02-15","v":1.143},{"d":"2022-02-20","v":1.146},{"d":"2022-02-25","v":1.171},{"d":"2022-03-02","v":1.202},{"d":"2022-03-06","v":1.242},{"d":"2022-03-11","v":1.254},{"d":"2022-03-14","v":1.265},{"d":"2022-03-19","v":1.28},{"d":"2022-03-24","v":1.274},{"d":"2022-03-29","v":1.28},{"d":"2022-04-02","v":1.286},{"d":"2022-04-07","v":1.28},{"d":"2022-04-12","v":1.274},{"d":"2022-04-17","v":1.271},{"d":"2022-04-22","v":1.262},{"d":"2022-04-27","v":1.262},{"d":"2022-05-02","v":1.262},{"d":"2022-05-06","v":1.28},{"d":"2022-05-11","v":1.274},{"d":"2022-05-16","v":1.268},{"d":"2022-05-22","v":1.262},{"d":"2022-05-29","v":1.265},{"d":"2022-06-05","v":1.262},{"d":"2022-06-10","v":1.259}
],
"p3c": [
{"d":"2020-01-03","v":1.417},{"d":"2020-01-07","v":1.405},{"d":"2020-01-11","v":1.417},{"d":"2020-01-13","v":1.40},{"d":"2020-01-16","v":1.428},{"d":"2020-01-20","v":1.417},{"d":"2020-01-22","v":1.571},{"d":"2020-01-25","v":1.56},{"d":"2020-01-27","v":1.652},{"d":"2020-01-30","v":1.617},{"d":"2020-02-02","v":1.746},{"d":"2020-02-04","v":1.674},{"d":"2020-02-07","v":1.56},{"d":"2020-02-09","v":1.606},{"d":"2020-02-13","v":1.571},{"d":"2020-02-17","v":1.629},{"d":"2020-02-21","v":1.617},{"d":"2020-02-25","v":1.606},{"d":"2020-02-27","v":1.523},{"d":"2020-02-28","v":1.346},{"d":"2020-02-29","v":1.323},{"d":"2020-03-03","v":1.488},{"d":"2020-03-05","v":1.794},{"d":"2020-03-08","v":1.771},{"d":"2020-03-10","v":1.546},{"d":"2020-03-13","v":1.346},{"d":"2020-03-15","v":1.417},{"d":"2020-03-18","v":1.534},{"d":"2020-03-22","v":1.534},{"d":"2020-03-24","v":1.571},{"d":"2020-03-28","v":1.56},{"d":"2020-04-01","v":1.546},{"d":"2020-04-05","v":1.534},{"d":"2020-04-09","v":1.546},{"d":"2020-04-13","v":1.50},{"d":"2020-04-15","v":1.405},{"d":"2020-04-18","v":1.394},{"d":"2020-04-20","v":1.451},{"d":"2020-04-24","v":1.463},{"d":"2020-04-27","v":1.546},{"d":"2020-04-29","v":1.511},{"d":"2020-05-03","v":1.511},{"d":"2020-05-07","v":1.50},{"d":"2020-05-11","v":1.477},{"d":"2020-05-15","v":1.477},{"d":"2020-05-19","v":1.463},{"d":"2020-05-23","v":1.50},{"d":"2020-05-27","v":1.511},{"d":"2020-05-31","v":1.523},{"d":"2020-06-04","v":1.534},{"d":"2020-06-11","v":1.525},{"d":"2020-06-24","v":1.516},{"d":"2020-06-30","v":1.516},{"d":"2020-07-06","v":1.533},{"d":"2020-07-13","v":1.525},{"d":"2020-07-22","v":1.533},{"d":"2020-07-29","v":1.582},{"d":"2020-08-02","v":1.582},{"d":"2020-08-05","v":1.557},{"d":"2020-08-15","v":1.549},{"d":"2020-08-25","v":1.552},{"d":"2020-09-04","v":1.549},{"d":"2020-09-14","v":1.552},{"d":"2020-09-21","v":1.574},{"d":"2020-09-27","v":1.566},{"d":"2020-10-04","v":1.566},{"d":"2020-10-10","v":1.574},{"d":"2020-10-17","v":1.566},{"d":"2020-10-23","v":1.541},{"d":"2020-10-28","v":1.508},{"d":"2020-11-02","v":1.516},{"d":"2020-11-05","v":1.566},{"d":"2020-11-12","v":1.557},{"d":"2020-11-18","v":1.566},{"d":"2020-11-25","v":1.574},{"d":"2020-12-02","v":1.59},{"d":"2020-12-05","v":1.598},{"d":"2020-12-12","v":1.582},{"d":"2020-12-18","v":1.582},{"d":"2020-12-25","v":1.59},{"d":"2020-12-30","v":1.566},{"d":"2021-01-03","v":1.582},{"d":"2021-01-09","v":1.582},{"d":"2021-01-16","v":1.607},{"d":"2021-01-22","v":1.582},{"d":"2021-01-29","v":1.582},{"d":"2021-02-05","v":1.582},{"d":"2021-02-12","v":1.566},{"d":"2021-02-19","v":1.549},{"d":"2021-02-25","v":1.50},{"d":"2021-02-28","v":1.533},{"d":"2021-03-02","v":1.664},{"d":"2021-03-05","v":1.73},{"d":"2021-03-09","v":1.631},{"d":"2021-03-12","v":1.795},{"d":"2021-03-15","v":2.09},{"d":"2021-03-18","v":1.762},{"d":"2021-03-22","v":1.615},{"d":"2021-03-25","v":1.975},{"d":"2021-03-28","v":2.238},{"d":"2021-03-30","v":2.221},{"d":"2021-04-03","v":2.09},{"d":"2021-04-06","v":2.057},{"d":"2021-04-10","v":2.172},{"d":"2021-04-13","v":2.057},{"d":"2021-04-16","v":2.189},{"d":"2021-04-20","v":2.074},{"d":"2021-04-23","v":2.107},{"d":"2021-04-26","v":2.057},{"d":"2021-05-02","v":2.074},{"d":"2021-05-07","v":2.057},{"d":"2021-05-12","v":2.041},{"d":"2021-05-17","v":2.05},{"d":"2021-05-22","v":2.139},{"d":"2021-05-27","v":2.189},{"d":"2021-06-01","v":2.123},{"d":"2021-06-06","v":2.205},{"d":"2021-06-11","v":2.107},{"d":"2021-06-16","v":2.025},{"d":"2021-06-19","v":2.123},{"d":"2021-06-24","v":2.205},{"d":"2021-06-29","v":2.123},{"d":"2021-07-03","v":2.172},{"d":"2021-07-08","v":2.189},{"d":"2021-07-13","v":2.189},{"d":"2021-07-16","v":2.172},{"d":"2021-07-20","v":2.172},{"d":"2021-07-26","v":2.189},{"d":"2021-07-31","v":2.189},{"d":"2021-08-03","v":2.287},{"d":"2021-08-05","v":2.336},{"d":"2021-08-08","v":2.27},{"d":"2021-08-13","v":2.205},{"d":"2021-08-18","v":2.287},{"d":"2021-08-23","v":2.23},{"d":"2021-08-28","v":2.27},{"d":"2021-09-02","v":2.27},{"d":"2021-09-05","v":2.221},{"d":"2021-09-08","v":2.32},{"d":"2021-09-11","v":2.221},{"d":"2021-09-15","v":2.172},{"d":"2021-09-18","v":2.254},{"d":"2021-09-21","v":2.238},{"d":"2021-09-25","v":2.32},{"d":"2021-09-28","v":2.221},{"d":"2021-09-30","v":1.943},{"d":"2021-10-02","v":1.697},{"d":"2021-10-06","v":1.795},{"d":"2021-10-09","v":1.943},{"d":"2021-10-12","v":1.877},{"d":"2021-10-15","v":1.943},{"d":"2021-10-19","v":1.975},{"d":"2021-10-22","v":1.844},{"d":"2021-10-25","v":1.926},{"d":"2021-10-29","v":1.697},{"d":"2021-11-01","v":1.828},{"d":"2021-11-04","v":1.615},{"d":"2021-11-08","v":1.664},{"d":"2021-11-11","v":1.533},{"d":"2021-11-14","v":1.451},{"d":"2021-11-18","v":1.484},{"d":"2021-11-21","v":1.369},{"d":"2021-11-24","v":1.27},{"d":"2021-11-27","v":1.336},{"d":"2021-11-30","v":1.287},{"d":"2021-12-04","v":1.27},{"d":"2021-12-07","v":1.467},{"d":"2021-12-10","v":1.713},{"d":"2021-12-14","v":1.27},{"d":"2021-12-17","v":1.598},{"d":"2021-12-20","v":1.402},{"d":"2021-12-24","v":1.156},{"d":"2021-12-27","v":1.32},{"d":"2021-12-30","v":1.27},{"d":"2022-01-02","v":1.287},{"d":"2022-01-05","v":1.205},{"d":"2022-01-09","v":1.238},{"d":"2022-01-12","v":1.172},{"d":"2022-01-15","v":1.107},{"d":"2022-01-18","v":1.074},{"d":"2022-01-22","v":1.139},{"d":"2022-01-25","v":0.877},{"d":"2022-01-28","v":0.992},{"d":"2022-01-31","v":1.352},{"d":"2022-02-03","v":0.664},{"d":"2022-02-07","v":0.68},{"d":"2022-02-10","v":0.811},{"d":"2022-02-14","v":0.795},{"d":"2022-02-17","v":0.91},{"d":"2022-02-20","v":0.959},{"d":"2022-02-24","v":1.156},{"d":"2022-02-27","v":1.287},{"d":"2022-03-01","v":1.566},{"d":"2022-03-04","v":2.025},{"d":"2022-03-07","v":2.057},{"d":"2022-03-09","v":1.828},{"d":"2022-03-12","v":2.008},{"d":"2022-03-15","v":1.959},{"d":"2022-03-17","v":1.746},{"d":"2022-03-20","v":1.713},{"d":"2022-03-23","v":1.746},{"d":"2022-03-27","v":1.648},{"d":"2022-03-30","v":1.746},{"d":"2022-04-02","v":1.582},{"d":"2022-04-05","v":1.73},{"d":"2022-04-09","v":1.648},{"d":"2022-04-12","v":1.762},{"d":"2022-04-17","v":1.779},{"d":"2022-04-20","v":1.861},{"d":"2022-04-23","v":1.959},{"d":"2022-04-27","v":1.697},{"d":"2022-04-30","v":1.795},{"d":"2022-05-03","v":1.811},{"d":"2022-05-06","v":1.27},{"d":"2022-05-09","v":1.008},{"d":"2022-05-13","v":1.648},{"d":"2022-05-16","v":1.533},{"d":"2022-05-19","v":1.352},{"d":"2022-05-23","v":1.566},{"d":"2022-05-26","v":1.352},{"d":"2022-05-29","v":1.533},{"d":"2022-06-02","v":1.516},{"d":"2022-06-05","v":1.451},{"d":"2022-06-08","v":1.566},{"d":"2022-06-10","v":1.55}
]
},
"bounds": "flush",
"spacing": 205,
"resolve": {"scale": {"color": "independent", "x": "independent", "y": "independent"}, "legend": {"color": "independent"}},
"vconcat": [
{
  "width": 1166, "height": 636,
  "encoding": {"x": {"field": "d", "type": "temporal",
    "scale": {"type": "utc", "domain": [{"year":2020,"month":1,"date":2,"utc":true},{"year":2022,"month":6,"date":10,"utc":true}]},
    "axis": {"values": [{"year":2020,"month":1,"date":2,"utc":true},{"year":2020,"month":2,"date":2,"utc":true},{"year":2020,"month":3,"date":2,"utc":true},{"year":2020,"month":4,"date":2,"utc":true},{"year":2020,"month":5,"date":2,"utc":true},{"year":2020,"month":6,"date":2,"utc":true},{"year":2020,"month":7,"date":2,"utc":true},{"year":2020,"month":8,"date":2,"utc":true},{"year":2020,"month":9,"date":2,"utc":true},{"year":2020,"month":10,"date":2,"utc":true},{"year":2020,"month":11,"date":2,"utc":true},{"year":2020,"month":12,"date":2,"utc":true},{"year":2021,"month":1,"date":2,"utc":true},{"year":2021,"month":2,"date":2,"utc":true},{"year":2021,"month":3,"date":2,"utc":true},{"year":2021,"month":4,"date":2,"utc":true},{"year":2021,"month":5,"date":2,"utc":true},{"year":2021,"month":6,"date":2,"utc":true},{"year":2021,"month":7,"date":2,"utc":true},{"year":2021,"month":8,"date":2,"utc":true},{"year":2021,"month":9,"date":2,"utc":true},{"year":2021,"month":10,"date":2,"utc":true},{"year":2021,"month":11,"date":2,"utc":true},{"year":2021,"month":12,"date":2,"utc":true},{"year":2022,"month":1,"date":2,"utc":true},{"year":2022,"month":2,"date":2,"utc":true},{"year":2022,"month":3,"date":2,"utc":true},{"year":2022,"month":4,"date":2,"utc":true},{"year":2022,"month":5,"date":2,"utc":true},{"year":2022,"month":6,"date":2,"utc":true}],
      "format": "%d-%m-%Y", "labelAngle": -90, "labelFont": "DejaVu Sans", "labelFontSize": 17.5, "labelPadding": 9, "labelFlush": false, "labelOverlap": false, "labelBound": false,
      "grid": false, "tickColor": "#D9D9D9", "tickSize": 7, "tickWidth": 1.5, "domainColor": "#D9D9D9", "domainWidth": 1.5, "title": null}}},
  "layer": [
    {"data": {"name": "p1a"}, "mark": {"type": "line"},
     "encoding": {"y": {"field": "v", "type": "quantitative", "scale": {"domain": [0.6, 0.95], "nice": false, "zero": false},
        "axis": {"orient": "left", "values": [0.6,0.65,0.7,0.75,0.8,0.85,0.9,0.95], "format": "~g", "grid": true, "gridColor": "#D9D9D9", "gridWidth": 1.5, "domain": false, "ticks": false, "labelPadding": 23, "title": null}},
      "color": {"datum": "Pf1", "type": "nominal", "scale": {"domain": ["Pf1", "Pf1 D1", "Pf1 D6"], "range": ["#4472C4", "#ED7D31", "#A5A5A5"]},
        "legend": {"orient": "none", "legendX": 389, "legendY": 782, "direction": "horizontal", "title": null, "symbolType": "stroke", "symbolStrokeWidth": 5, "symbolSize": 1700, "columnPadding": 34, "labelOffset": 4}}}},
    {"data": {"name": "p1b"}, "mark": {"type": "line"},
     "encoding": {"y": {"field": "v", "type": "quantitative", "scale": {"domain": [0.6, 0.95], "nice": false, "zero": false}, "axis": null},
      "color": {"datum": "Pf1 D1", "type": "nominal"}}},
    {"data": {"name": "p1c"}, "mark": {"type": "line"},
     "encoding": {"y": {"field": "v", "type": "quantitative", "scale": {"domain": [0, 1.4], "nice": false, "zero": false},
        "axis": {"orient": "right", "values": [0,0.2,0.4,0.6,0.8,1,1.2,1.4], "format": "~g", "grid": false, "domain": false, "ticks": false, "labelPadding": 15, "title": null}},
      "color": {"datum": "Pf1 D6", "type": "nominal"}}}
  ],
  "resolve": {"scale": {"y": "independent"}}
},
{
  "bounds": "flush",
  "spacing": 229,
  "resolve": {"scale": {"color": "independent", "x": "independent", "y": "independent"}, "legend": {"color": "independent"}},
  "vconcat": [
  {
    "width": 1166, "height": 538,
    "encoding": {"x": {"field": "d", "type": "temporal",
      "scale": {"type": "utc", "domain": [{"year":2020,"month":1,"date":2,"utc":true},{"year":2022,"month":6,"date":10,"utc":true}]},
      "axis": {"values": [{"year":2020,"month":1,"date":2,"utc":true},{"year":2020,"month":2,"date":2,"utc":true},{"year":2020,"month":3,"date":2,"utc":true},{"year":2020,"month":4,"date":2,"utc":true},{"year":2020,"month":5,"date":2,"utc":true},{"year":2020,"month":6,"date":2,"utc":true},{"year":2020,"month":7,"date":2,"utc":true},{"year":2020,"month":8,"date":2,"utc":true},{"year":2020,"month":9,"date":2,"utc":true},{"year":2020,"month":10,"date":2,"utc":true},{"year":2020,"month":11,"date":2,"utc":true},{"year":2020,"month":12,"date":2,"utc":true},{"year":2021,"month":1,"date":2,"utc":true},{"year":2021,"month":2,"date":2,"utc":true},{"year":2021,"month":3,"date":2,"utc":true},{"year":2021,"month":4,"date":2,"utc":true},{"year":2021,"month":5,"date":2,"utc":true},{"year":2021,"month":6,"date":2,"utc":true},{"year":2021,"month":7,"date":2,"utc":true},{"year":2021,"month":8,"date":2,"utc":true},{"year":2021,"month":9,"date":2,"utc":true},{"year":2021,"month":10,"date":2,"utc":true},{"year":2021,"month":11,"date":2,"utc":true},{"year":2021,"month":12,"date":2,"utc":true},{"year":2022,"month":1,"date":2,"utc":true},{"year":2022,"month":2,"date":2,"utc":true},{"year":2022,"month":3,"date":2,"utc":true},{"year":2022,"month":4,"date":2,"utc":true},{"year":2022,"month":5,"date":2,"utc":true},{"year":2022,"month":6,"date":2,"utc":true}],
        "format": "%d-%m-%Y", "labelAngle": -90, "labelFont": "DejaVu Sans", "labelFontSize": 17.5, "labelPadding": 9, "labelFlush": false, "labelOverlap": false, "labelBound": false,
        "grid": false, "tickColor": "#D9D9D9", "tickSize": 7, "tickWidth": 1.5, "domainColor": "#D9D9D9", "domainWidth": 1.5, "title": null}}},
    "layer": [
      {"data": {"name": "p2a"}, "mark": {"type": "line"},
       "encoding": {"y": {"field": "v", "type": "quantitative", "scale": {"domain": [0.9, 1.5], "nice": false, "zero": false},
          "axis": {"orient": "left", "values": [0.9,1,1.1,1.2,1.3,1.4,1.5], "format": "~g", "grid": true, "gridColor": "#D9D9D9", "gridWidth": 1.5, "domain": false, "ticks": false, "labelPadding": 23, "title": null}},
        "color": {"datum": "Pf2", "type": "nominal", "scale": {"domain": ["Pf2", "Pf2 D1", "Pf2 D6"], "range": ["#4472C4", "#ED7D31", "#A5A5A5"]},
          "legend": {"orient": "none", "legendX": 394, "legendY": 683, "direction": "horizontal", "title": null, "symbolType": "stroke", "symbolStrokeWidth": 5, "symbolSize": 1700, "columnPadding": 34, "labelOffset": 4}}}},
      {"data": {"name": "p2b"}, "mark": {"type": "line"},
       "encoding": {"y": {"field": "v", "type": "quantitative", "scale": {"domain": [0.9, 1.5], "nice": false, "zero": false}, "axis": null},
        "color": {"datum": "Pf2 D1", "type": "nominal"}}},
      {"data": {"name": "p2c"}, "mark": {"type": "line"},
       "encoding": {"y": {"field": "v", "type": "quantitative", "scale": {"domain": [0, 2.5], "nice": false, "zero": false},
          "axis": {"orient": "right", "values": [0,0.5,1,1.5,2,2.5], "format": "~g", "grid": false, "domain": false, "ticks": false, "labelPadding": 15, "title": null}},
        "color": {"datum": "Pf2 D6", "type": "nominal"}}}
    ],
    "resolve": {"scale": {"y": "independent"}}
  },
  {
    "width": 1166, "height": 568,
    "encoding": {"x": {"field": "d", "type": "temporal",
      "scale": {"type": "utc", "domain": [{"year":2020,"month":1,"date":2,"utc":true},{"year":2022,"month":6,"date":10,"utc":true}]},
      "axis": {"values": [{"year":2020,"month":1,"date":2,"utc":true},{"year":2020,"month":2,"date":2,"utc":true},{"year":2020,"month":3,"date":2,"utc":true},{"year":2020,"month":4,"date":2,"utc":true},{"year":2020,"month":5,"date":2,"utc":true},{"year":2020,"month":6,"date":2,"utc":true},{"year":2020,"month":7,"date":2,"utc":true},{"year":2020,"month":8,"date":2,"utc":true},{"year":2020,"month":9,"date":2,"utc":true},{"year":2020,"month":10,"date":2,"utc":true},{"year":2020,"month":11,"date":2,"utc":true},{"year":2020,"month":12,"date":2,"utc":true},{"year":2021,"month":1,"date":2,"utc":true},{"year":2021,"month":2,"date":2,"utc":true},{"year":2021,"month":3,"date":2,"utc":true},{"year":2021,"month":4,"date":2,"utc":true},{"year":2021,"month":5,"date":2,"utc":true},{"year":2021,"month":6,"date":2,"utc":true},{"year":2021,"month":7,"date":2,"utc":true},{"year":2021,"month":8,"date":2,"utc":true},{"year":2021,"month":9,"date":2,"utc":true},{"year":2021,"month":10,"date":2,"utc":true},{"year":2021,"month":11,"date":2,"utc":true},{"year":2021,"month":12,"date":2,"utc":true},{"year":2022,"month":1,"date":2,"utc":true},{"year":2022,"month":2,"date":2,"utc":true},{"year":2022,"month":3,"date":2,"utc":true},{"year":2022,"month":4,"date":2,"utc":true},{"year":2022,"month":5,"date":2,"utc":true},{"year":2022,"month":6,"date":2,"utc":true}],
        "format": "%d-%m-%Y", "labelAngle": -90, "labelFont": "DejaVu Sans", "labelFontSize": 17.5, "labelPadding": 9, "labelFlush": false, "labelOverlap": false, "labelBound": false,
        "grid": false, "tickColor": "#D9D9D9", "tickSize": 7, "tickWidth": 1.5, "domainColor": "#D9D9D9", "domainWidth": 1.5, "title": null}}},
    "layer": [
      {"data": {"name": "p3a"}, "mark": {"type": "line"},
       "encoding": {"y": {"field": "v", "type": "quantitative", "scale": {"domain": [0.9, 1.6], "nice": false, "zero": false},
          "axis": {"orient": "left", "values": [0.9,1,1.1,1.2,1.3,1.4,1.5,1.6], "format": "~g", "grid": true, "gridColor": "#D9D9D9", "gridWidth": 1.5, "domain": false, "ticks": false, "labelPadding": 23, "title": null}},
        "color": {"datum": "Pf3", "type": "nominal", "scale": {"domain": ["Pf3", "Pf3 D1", "Pf3 D6"], "range": ["#4472C4", "#ED7D31", "#A5A5A5"]},
          "legend": {"orient": "none", "legendX": 389, "legendY": 709, "direction": "horizontal", "title": null, "symbolType": "stroke", "symbolStrokeWidth": 5, "symbolSize": 1700, "columnPadding": 34, "labelOffset": 4}}}},
      {"data": {"name": "p3b"}, "mark": {"type": "line"},
       "encoding": {"y": {"field": "v", "type": "quantitative", "scale": {"domain": [0.9, 1.6], "nice": false, "zero": false}, "axis": null},
        "color": {"datum": "Pf3 D1", "type": "nominal"}}},
      {"data": {"name": "p3c"}, "mark": {"type": "line"},
       "encoding": {"y": {"field": "v", "type": "quantitative", "scale": {"domain": [0.5, 2.5], "nice": false, "zero": false},
          "axis": {"orient": "right", "values": [0.5,0.7,0.9,1.1,1.3,1.5,1.7,1.9,2.1,2.3,2.5], "format": "~g", "grid": false, "domain": false, "ticks": false, "labelPadding": 15, "title": null}},
        "color": {"datum": "Pf3 D6", "type": "nominal"}}}
    ],
    "resolve": {"scale": {"y": "independent"}}
  }
  ]
}
]
}
